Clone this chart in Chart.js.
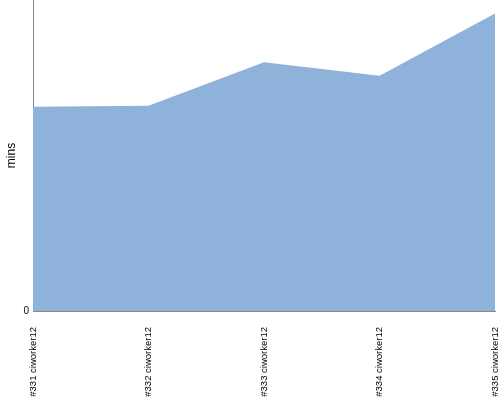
<!DOCTYPE html>
<html>
<head>
<meta charset="utf-8">
<script src="https://cdn.jsdelivr.net/npm/chart.js@4/dist/chart.umd.min.js"></script>
<style>
  html, body { margin: 0; padding: 0; background: #fff; }
  #wrap { width: 500px; height: 400px; }
</style>
</head>
<body>
<div id="wrap"><canvas id="areaChart" width="500" height="400"></canvas></div>
<script>
const builds = ['#331 ciworker12', '#332 ciworker12', '#333 ciworker12', '#334 ciworker12', '#335 ciworker12'];
const mins = [19.7, 19.8, 24.0, 22.7, 28.7];
const yTicks = [0];
const yMax = 30;

const noPad = (scale) => {
  scale.paddingLeft = 0;
  scale.paddingRight = 0;
  scale.paddingTop = 0;
  scale.paddingBottom = 0;
};

const ctx = document.getElementById('areaChart').getContext('2d');
const chart = new Chart(ctx, {
  type: 'line',
  data: {
    labels: builds,
    datasets: [{
      data: mins,
      fill: 'origin',
      backgroundColor: '#8fb2db',
      borderColor: '#8fb2db',
      borderWidth: 0,
      pointRadius: 0,
      tension: 0
    }]
  },
  options: {
    responsive: false,
    animation: false,
    plugins: { legend: { display: false }, tooltip: { enabled: false } },
    layout: { padding: { top: 0, right: 5, bottom: 0, left: 0 } },
    scales: {
      x: {
        offset: false,
        grid: { display: false, drawTicks: false },
        border: { display: true, color: '#888', width: 1 },
        ticks: {
          minRotation: 90, maxRotation: 90, padding: 16,
          color: '#000', font: { family: 'Liberation Sans', size: 9.5 }
        },
        afterFit: (scale) => { scale.height = 89; noPad(scale); }
      },
      y: {
        min: 0, max: yMax,
        grid: { display: false, drawTicks: false },
        border: { display: true, color: '#888', width: 1 },
        afterBuildTicks: (scale) => { scale.ticks = yTicks.map(v => ({ value: v })); },
        ticks: { padding: 4, color: '#000', font: { family: 'Liberation Sans', size: 10 } },
        title: { display: true, text: 'mins', color: '#000', padding: { top: 4, bottom: 0 }, font: { family: 'Liberation Sans', size: 12 } },
        afterFit: (scale) => { scale.width = 33; noPad(scale); }
      }
    }
  }
});
</script>
</body>
</html>
